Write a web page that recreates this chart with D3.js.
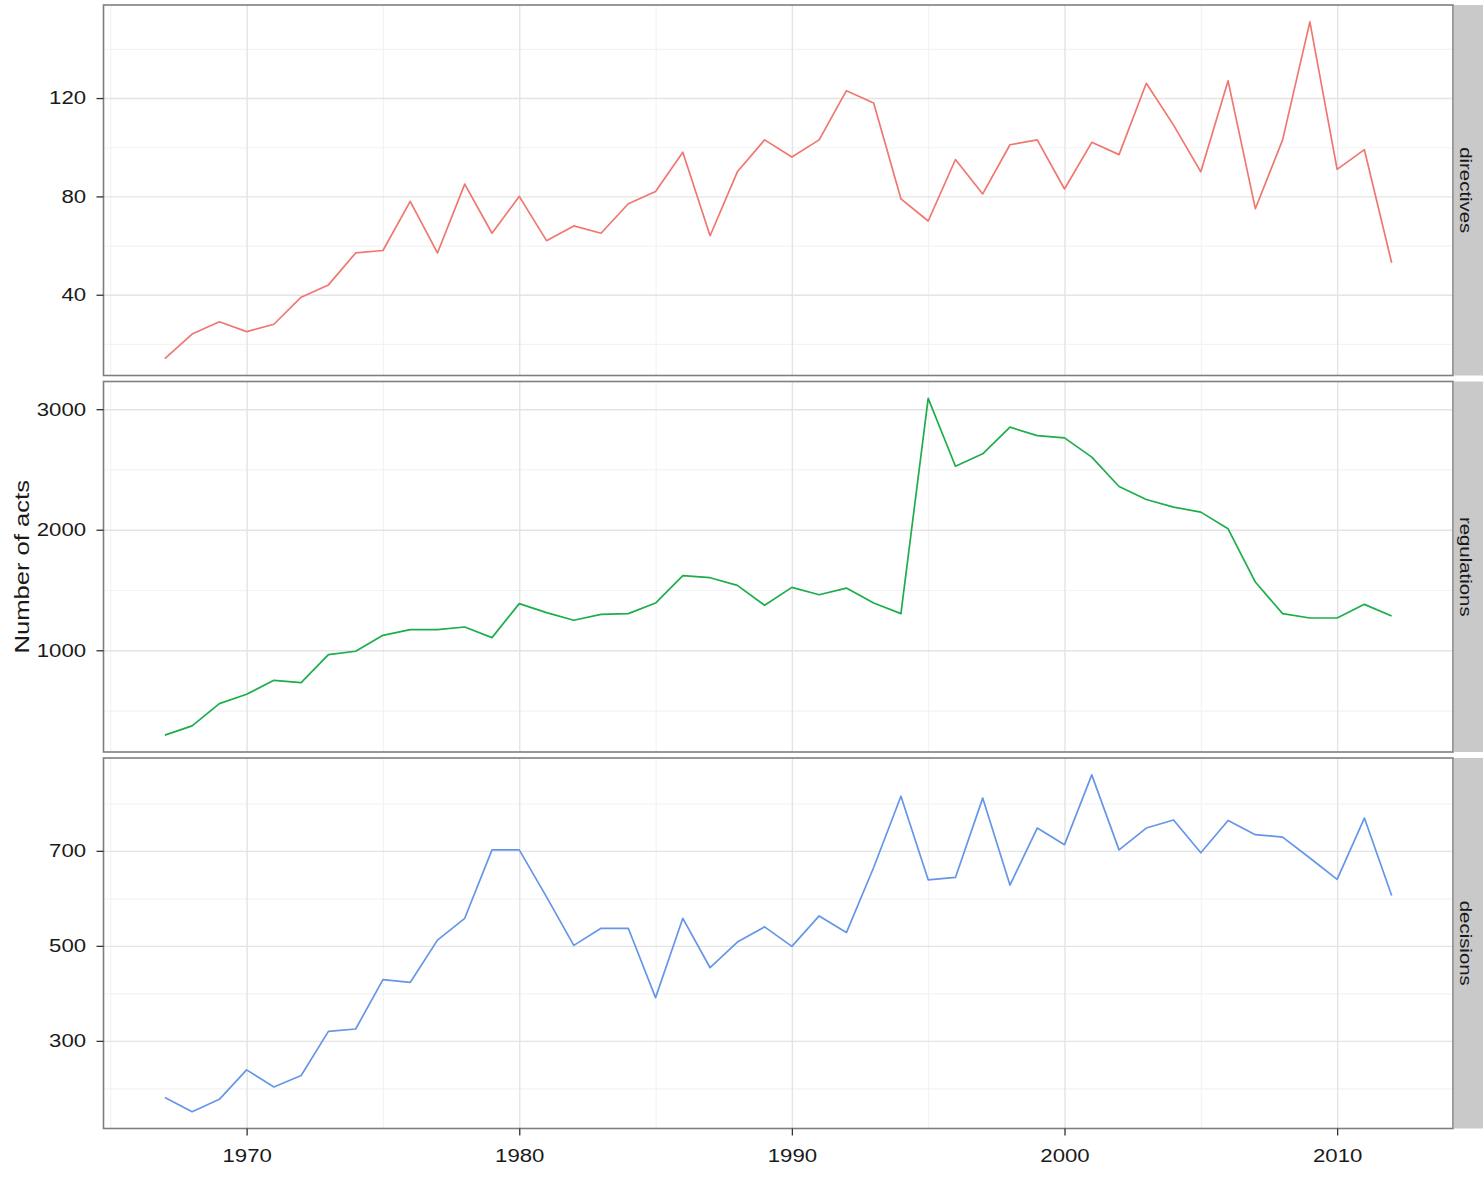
<!DOCTYPE html>
<html lang="en">
<head>
  <meta charset="UTF-8">
  <title>Number of acts</title>
  <script src="https://cdn.jsdelivr.net/npm/d3@7"></script>
  <style>
    body { margin: 0; background: #fff; }
    svg text { font-family: "Liberation Sans", Arial, sans-serif; fill: #1a1a1a; }
  </style>
</head>
<body>
  <div id="chart"></div>

  <script>
    // data
    const years = [1967, 1968, 1969, 1970, 1971, 1972, 1973, 1974, 1975, 1976,
      1977, 1978, 1979, 1980, 1981, 1982, 1983, 1984, 1985, 1986,
      1987, 1988, 1989, 1990, 1991, 1992, 1993, 1994, 1995, 1996,
      1997, 1998, 1999, 2000, 2001, 2002, 2003, 2004, 2005, 2006,
      2007, 2008, 2009, 2010, 2011, 2012];

    const directives = [14, 24, 29, 25, 28, 39, 44, 57, 58, 78,
      57, 85, 65, 80, 62, 68, 65, 77, 82, 98,
      64, 90, 103, 96, 103, 123, 118, 79, 70, 95,
      81, 101, 103, 83, 102, 97, 126, 109, 90, 127,
      75, 103, 151, 91, 99, 53];

    const regulations = [296, 373, 558, 635, 751, 732, 964, 992, 1124, 1171,
      1171, 1193, 1105, 1387, 1312, 1249, 1298, 1304, 1392, 1619,
      1602, 1539, 1373, 1522, 1461, 1516, 1392, 1304, 3090, 2527,
      2630, 2851, 2781, 2762, 2602, 2359, 2251, 2188, 2146, 2008,
      1566, 1304, 1268, 1268, 1381, 1284];

    const decisions = [181, 151, 177, 239, 203, 227, 320, 325, 429, 423,
      512, 558, 702, 702, 603, 501, 537, 537, 391, 558,
      454, 508, 540, 499, 563, 528, 665, 815, 639, 644,
      811, 628, 748, 713, 860, 702, 748, 765, 696, 764,
      734, 729, 685, 640, 769, 606];

    const xTicks = [1970, 1980, 1990, 2000, 2010];
    const xMinor = [1965, 1975, 1985, 1995, 2005];

    const directivesTicks = [40, 80, 120];
    const directivesMinor = [20, 60, 100, 140];
    const regulationsTicks = [1000, 2000, 3000];
    const regulationsMinor = [500, 1500, 2500];
    const decisionsTicks = [300, 500, 700];
    const decisionsMinor = [200, 400, 600, 800];

    const facets = [
      { name: "directives", values: directives, color: "#F0776F", ticks: directivesTicks, minor: directivesMinor },
      { name: "regulations", values: regulations, color: "#1DAE4C", ticks: regulationsTicks, minor: regulationsMinor },
      { name: "decisions", values: decisions, color: "#6596E8", ticks: decisionsTicks, minor: decisionsMinor }
    ];

    const width = 1483;
    const height = 1177;
    const left = 103.5;
    const right = 1453;
    const panelH = 370.5;
    const panelTops = [5, 381.5, 758];
    const stretch = 1.2;

    const svg = d3.select("#chart")
      .append("svg")
      .attr("width", width)
      .attr("height", height);

    // x scale with ggplot-like 5% padding
    const xExt = d3.extent(years);
    const xPad = (xExt[1] - xExt[0]) * 0.05;
    const x = d3.scaleLinear()
      .domain([xExt[0] - xPad, xExt[1] + xPad])
      .range([left, right]);

    facets.forEach((f, k) => {
      const top = panelTops[k];
      const g = svg.append("g").attr("transform", "translate(0," + top + ")");

      const ext = d3.extent(f.values);
      const pad = (ext[1] - ext[0]) * 0.05;
      const y = d3.scaleLinear()
        .domain([ext[0] - pad, ext[1] + pad])
        .range([panelH, 0]);

      // minor grid
      g.append("g")
        .attr("transform", "translate(" + left + ",0)")
        .call(d3.axisLeft(y).tickValues(f.minor).tickSize(-(right - left)).tickFormat(""))
        .call(a => a.select(".domain").remove())
        .selectAll("line").attr("stroke", "#f3f3f3").attr("stroke-width", 1.2);
      g.append("g")
        .attr("transform", "translate(0," + panelH + ")")
        .call(d3.axisBottom(x).tickValues(xMinor).tickSize(-panelH).tickFormat(""))
        .call(a => a.select(".domain").remove())
        .selectAll("line").attr("stroke", "#f3f3f3").attr("stroke-width", 1.2);

      // major grid
      g.append("g")
        .attr("transform", "translate(" + left + ",0)")
        .call(d3.axisLeft(y).tickValues(f.ticks).tickSize(-(right - left)).tickFormat(""))
        .call(a => a.select(".domain").remove())
        .selectAll("line").attr("stroke", "#e4e4e4").attr("stroke-width", 1.4);
      g.append("g")
        .attr("transform", "translate(0," + panelH + ")")
        .call(d3.axisBottom(x).tickValues(xTicks).tickSize(-panelH).tickFormat(""))
        .call(a => a.select(".domain").remove())
        .selectAll("line").attr("stroke", "#e4e4e4").attr("stroke-width", 1.4);

      // the series
      const line = d3.line()
        .x((d, i) => x(years[i]))
        .y(d => y(d));

      g.append("path")
        .datum(f.values)
        .attr("fill", "none")
        .attr("stroke", f.color)
        .attr("stroke-width", 1.7)
        .attr("stroke-linejoin", "round")
        .attr("d", line);

      // panel border
      g.append("rect")
        .attr("x", left)
        .attr("y", 0)
        .attr("width", right - left)
        .attr("height", panelH)
        .attr("fill", "none")
        .attr("stroke", "#7f7f7f")
        .attr("stroke-width", 1.6);

      // strip on the right
      g.append("rect")
        .attr("x", right + 0.8)
        .attr("y", 0)
        .attr("width", 40)
        .attr("height", panelH)
        .attr("fill", "#c9c9c9");
      g.append("text")
        .attr("transform", "translate(" + 1466 + "," + panelH / 2 + ") rotate(90) scale(" + stretch + ",1)")
        .attr("text-anchor", "middle")
        .attr("dominant-baseline", "central")
        .style("font-size", "17px")
        .text(f.name);

      // y axis
      const ay = g.append("g")
        .attr("transform", "translate(" + left + ",0)")
        .call(d3.axisLeft(y).tickValues(f.ticks).tickFormat(d3.format("d")).tickSize(7).tickPadding(7.5));
      ay.select(".domain").remove();
      ay.selectAll("line").attr("stroke", "#333").attr("stroke-width", 1.3);
      ay.selectAll("text")
        .attr("transform", "scale(" + stretch + ",1)")
        .style("font-size", "18.5px")
        .attr("fill", "#1a1a1a");

      // x axis only under the last panel
      if (k === facets.length - 1) {
        const ax = g.append("g")
          .attr("transform", "translate(0," + panelH + ")")
          .call(d3.axisBottom(x).tickValues(xTicks).tickFormat(d3.format("d")).tickSize(7).tickPadding(13));
        ax.select(".domain").remove();
        ax.selectAll("line").attr("stroke", "#333").attr("stroke-width", 1.3);
        ax.selectAll("text")
          .attr("transform", "scale(" + stretch + ",1)")
          .style("font-size", "18.5px")
          .attr("fill", "#1a1a1a");
      }
    });

    // y axis title
    svg.append("text")
      .attr("transform", "translate(22," + (panelTops[1] + panelH / 2) + ") rotate(-90) scale(1.28,1)")
      .attr("text-anchor", "middle")
      .attr("dominant-baseline", "central")
      .style("font-size", "20px")
      .text("Number of acts");
  </script>
</body>
</html>
